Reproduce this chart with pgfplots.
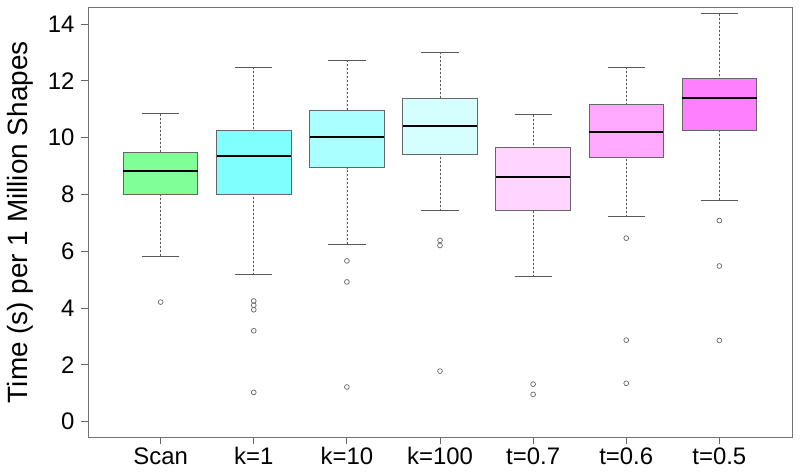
\documentclass[border=0pt]{standalone}
\usepackage{fontspec}
\setmainfont{Liberation Sans}
\usepackage{pgfplots}
\pgfplotsset{compat=1.18}
\usepgfplotslibrary{statistics}
\definecolor{cScan}{RGB}{128,255,153}
\definecolor{cKa}{RGB}{128,255,255}
\definecolor{cKb}{RGB}{170,255,255}
\definecolor{cKc}{RGB}{213,255,255}
\definecolor{cTa}{RGB}{255,213,255}
\definecolor{cTb}{RGB}{255,170,255}
\definecolor{cTc}{RGB}{255,128,255}
\begin{document}
\begin{tikzpicture}
\begin{axis}[
  scale only axis, width=704bp, height=429.5bp,
  xmin=0.22, xmax=7.78, ymin=-0.54, ymax=14.58,
  xtick={1,...,7}, xticklabels={Scan,k=1,k=10,k=100,t=0.7,t=0.6,t=0.5},
  ytick={0,2,...,14},
  tick align=outside, major tick length=7bp,
  xtick pos=bottom, ytick pos=left,
  axis line style={black!55, line width=0.8bp},
  tick style={black!60, line width=0.8bp},
  tick label style={font=\fontsize{24}{27}\selectfont},
  yticklabel style={xshift=-3bp},
  /pgf/number format/assume math mode=true,
  ylabel={Time (s) per 1 Million Shapes},
  every axis y label/.style={at={(rel axis cs:0,0.5)}, xshift=-68bp, rotate=90, anchor=center, font=\fontsize{28}{32}\selectfont},
  boxplot/draw direction=y,
  boxplot/box extend=0.8,
  boxplot/whisker extend=0.4,
  boxplot/every median/.style={black, line width=2.2bp},
  boxplot/every box/.style={draw=black!60, line width=0.8bp},
  boxplot/draw/lower whisker/.code={
    \draw[black!65, line width=0.7bp, dash pattern=on 2bp off 2bp]
      (boxplot cs:\pgfplotsboxplotvalue{lower whisker}) -- (boxplot cs:\pgfplotsboxplotvalue{lower quartile});
    \draw[black!65, line width=0.8bp]
      (boxplot whisker cs:\pgfplotsboxplotvalue{lower whisker},0) -- (boxplot whisker cs:\pgfplotsboxplotvalue{lower whisker},1);
  },
  boxplot/draw/upper whisker/.code={
    \draw[black!65, line width=0.7bp, dash pattern=on 2bp off 2bp]
      (boxplot cs:\pgfplotsboxplotvalue{upper whisker}) -- (boxplot cs:\pgfplotsboxplotvalue{upper quartile});
    \draw[black!65, line width=0.8bp]
      (boxplot whisker cs:\pgfplotsboxplotvalue{upper whisker},0) -- (boxplot whisker cs:\pgfplotsboxplotvalue{upper whisker},1);
  },
  every axis plot/.append style={mark=o, mark size=2.4bp, mark options={draw=black!60, line width=0.7bp, solid}},
]
\addplot[fill=cScan, boxplot prepared={draw position=1, lower whisker=5.83, lower quartile=8.01, median=8.82, upper quartile=9.49, upper whisker=10.84}]
  table[row sep=\\, y index=0] {4.21\\};
\addplot[fill=cKa, boxplot prepared={draw position=2, lower whisker=5.17, lower quartile=8.01, median=9.34, upper quartile=10.26, upper whisker=12.48}]
  table[row sep=\\, y index=0] {4.25\\4.10\\3.94\\3.20\\1.03\\};
\addplot[fill=cKb, boxplot prepared={draw position=3, lower whisker=6.25, lower quartile=8.94, median=10.02, upper quartile=10.96, upper whisker=12.73}]
  table[row sep=\\, y index=0] {5.66\\4.92\\1.22\\};
\addplot[fill=cKc, boxplot prepared={draw position=4, lower whisker=7.43, lower quartile=9.41, median=10.42, upper quartile=11.37, upper whisker=13.00}]
  table[row sep=\\, y index=0] {6.38\\6.20\\1.78\\};
\addplot[fill=cTa, boxplot prepared={draw position=5, lower whisker=5.10, lower quartile=7.44, median=8.61, upper quartile=9.65, upper whisker=10.80}]
  table[row sep=\\, y index=0] {1.32\\0.96\\};
\addplot[fill=cTb, boxplot prepared={draw position=6, lower whisker=7.22, lower quartile=9.31, median=10.21, upper quartile=11.17, upper whisker=12.47}]
  table[row sep=\\, y index=0] {6.46\\2.87\\1.35\\};
\addplot[fill=cTc, boxplot prepared={draw position=7, lower whisker=7.80, lower quartile=10.26, median=11.38, upper quartile=12.10, upper whisker=14.36}]
  table[row sep=\\, y index=0] {7.08\\5.48\\2.86\\};
\end{axis}
\useasboundingbox (current axis.south west) ++(-88bp,-35bp) rectangle ++(800bp,472bp);
\end{tikzpicture}
\end{document}
